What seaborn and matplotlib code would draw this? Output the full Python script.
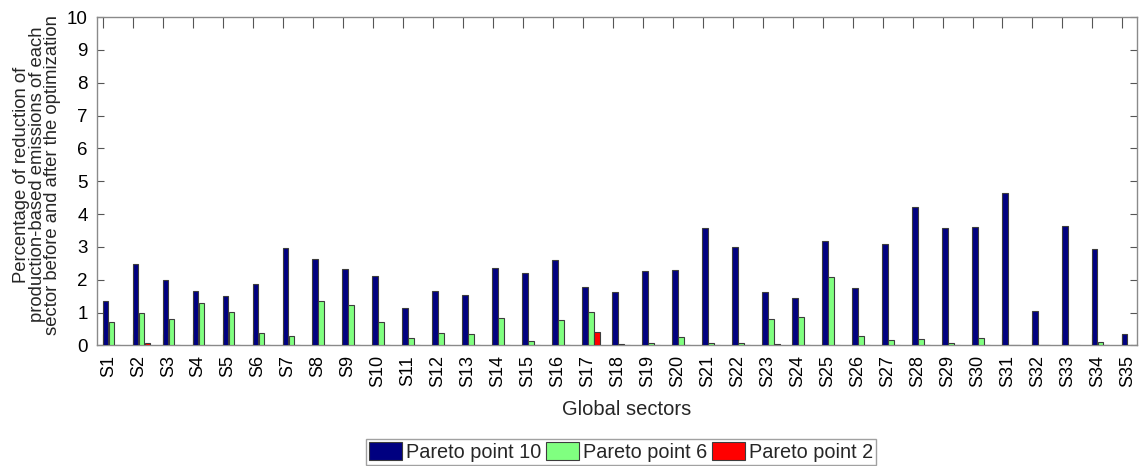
import numpy as np
import pandas as pd
import matplotlib
matplotlib.use("Agg")
import matplotlib.pyplot as plt
from matplotlib.patches import Patch
from matplotlib.transforms import ScaledTranslation
import seaborn as sns

# Sector labels along the x axis
sectors = ["S1", "S2", "S3", "S4", "S5", "S6", "S7", "S8", "S9", "S10",
           "S11", "S12", "S13", "S14", "S15", "S16", "S17", "S18", "S19", "S20",
           "S21", "S22", "S23", "S24", "S25", "S26", "S27", "S28", "S29", "S30",
           "S31", "S32", "S33", "S34", "S35"]

# Reduction (%) of production-based emissions per sector for each Pareto point
pareto_10 = [1.34, 2.49, 1.98, 1.67, 1.51, 1.88, 2.96, 2.62, 2.33, 2.12,
             1.13, 1.67, 1.53, 2.37, 2.22, 2.61, 1.79, 1.63, 2.27, 2.30,
             3.57, 2.99, 1.63, 1.45, 3.17, 1.75, 3.08, 4.21, 3.58, 3.62,
             4.64, 1.06, 3.64, 2.93, 0.34]
pareto_6 = [0.70, 0.99, 0.81, 1.28, 1.02, 0.39, 0.29, 1.36, 1.22, 0.70,
            0.22, 0.38, 0.34, 0.84, 0.13, 0.79, 1.02, 0.04, 0.07, 0.26,
            0.09, 0.08, 0.82, 0.88, 2.10, 0.28, 0.17, 0.20, 0.07, 0.23,
            0.01, 0.01, 0.01, 0.10, 0.01]
pareto_2 = [0.01, 0.08, 0.01, 0.01, 0.01, 0.01, 0.01, 0.01, 0.01, 0.01,
            0.01, 0.01, 0.01, 0.01, 0.01, 0.01, 0.40, 0.01, 0.01, 0.01,
            0.01, 0.01, 0.05, 0.01, 0.01, 0.01, 0.01, 0.01, 0.01, 0.01,
            0.01, 0.01, 0.01, 0.01, 0.01]

series_names = ["Pareto point 10", "Pareto point 6", "Pareto point 2"]
series_colors = ["#000080", "#80ff80", "#ff0000"]
y_ticks = [0, 1, 2, 3, 4, 5, 6, 7, 8, 9, 10]

df = pd.DataFrame({
    "sector": sectors * 3,
    "value": pareto_10 + pareto_6 + pareto_2,
    "series": [series_names[0]] * len(sectors)
              + [series_names[1]] * len(sectors)
              + [series_names[2]] * len(sectors),
})

sns.set_style("white")
plt.rcParams["font.family"] = ["Liberation Sans", "DejaVu Sans"]

fig = plt.figure(figsize=(11.43, 4.66), dpi=100)
ax = fig.add_axes([0.0853, 0.2586, 0.9095, 0.7049])

edge = "#3c3c3c"
sns.barplot(data=df, x="sector", y="value", hue="series",
            order=sectors, hue_order=series_names, palette=series_colors,
            width=0.6, gap=0.05, saturation=1, errorbar=None,
            edgecolor=edge, linewidth=0.8, legend=False, ax=ax)

# keep bar outlines (including the tiny ones) above the baseline spine
for bar in ax.patches:
    bar.set_zorder(3)

# Tick marks sit at the left edge of each group of bars
tick_shift = 0.275
tick_pos = np.arange(len(sectors)) - tick_shift
ax.set_xticks(tick_pos)
ax.set_xticklabels(sectors, rotation=90, fontsize=13)
ax.set_xlim(-tick_shift - 0.193, len(sectors) - 1 - tick_shift + 0.49)

ax.set_ylim(0, 10)
ax.set_yticks(y_ticks)
ax.set_yticklabels([str(v) for v in y_ticks], fontsize=13.5)

axis_gray = "#8a8a8a"
tick_gray = "#555555"
for side in ["left", "right", "top", "bottom"]:
    ax.spines[side].set_visible(True)
    ax.spines[side].set_color(axis_gray)
    ax.spines[side].set_linewidth(1.0)

ax.tick_params(axis="x", direction="in", bottom=True, top=True,
               length=8, width=0.8, color=tick_gray, pad=7, labelcolor="black")
ax.tick_params(axis="y", direction="in", left=True, right=True,
               length=5, width=0.8, color=tick_gray, pad=7, labelcolor="black")

# nudge the rotated sector labels slightly to the right of their ticks
offset = ScaledTranslation(5 / 100, 0, fig.dpi_scale_trans)
for lbl in ax.get_xticklabels():
    lbl.set_transform(lbl.get_transform() + offset)

ax.set_xlabel("Global sectors", fontsize=14.5)
ax.xaxis.set_label_coords(0.509, -0.166)
ax.set_ylabel("Percentage of reduction of\nproduction-based emissions of each\n"
              "sector before and after the optimization",
              fontsize=13.3, linespacing=0.88)
ax.yaxis.set_label_coords(-0.035, 0.52)

handles = [Patch(facecolor=c, edgecolor=edge, linewidth=0.8) for c in series_colors]
leg = fig.legend(handles, series_names, loc="center",
                 bbox_to_anchor=(621 / 1143, 14 / 466), ncol=3, fontsize=14.3,
                 frameon=True, fancybox=False, edgecolor=axis_gray,
                 handlelength=1.7, handleheight=1.0, handletextpad=0.2,
                 columnspacing=0.2, borderpad=0.15, borderaxespad=0)
leg.get_frame().set_linewidth(1.0)

fig.savefig("out.png", dpi=100, facecolor="white")
